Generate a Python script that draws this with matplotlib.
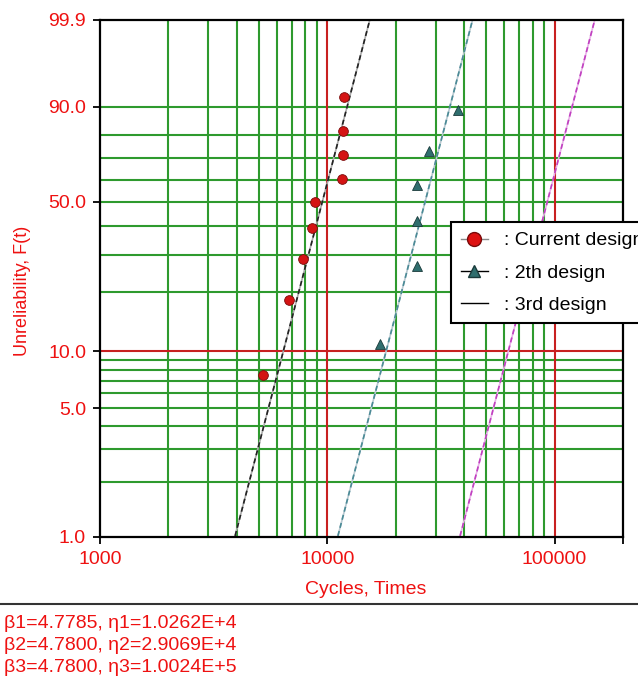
import numpy as np
import matplotlib
matplotlib.use('Agg')
import matplotlib.pyplot as plt
from matplotlib.lines import Line2D

plt.rcParams['font.family'] = ['Liberation Sans', 'DejaVu Sans']

# data
cur_t = [5206, 6773, 7803, 8551, 8812, 11580, 11698, 11698, 11815]
cur_f = [7.45, 18.1, 28.7, 39.4, 50.0, 60.6, 71.3, 81.9, 92.6]
sec_t = [17010, 24740, 24740, 24740, 27940, 37460]
sec_f = [10.9, 26.6, 42.2, 57.8, 73.4, 89.1]

betas = [4.7785, 4.7800, 4.7800]
etas = [1.0262e4, 2.9069e4, 1.0024e5]
fit_colors = [('#222222', '#aaaaaa'), ('#4a8a96', '#b8c8d0'), ('#c040c0', '#e8b0e8')]

ytick_vals = [1.0, 5.0, 10.0, 50.0, 90.0, 99.9]
ygrid_green = [2, 3, 4, 5, 6, 7, 8, 9, 20, 30, 40, 50, 60, 70, 80, 90]
xgrid_green = [2000, 3000, 4000, 5000, 6000, 7000, 8000, 9000,
               20000, 30000, 40000, 50000, 60000, 70000, 80000, 90000]

RED = '#ee1111'
GRID_G = '#2e9a2e'
GRID_R = '#c82020'
FS = 14


def fwd(f):
    f = np.clip(np.asarray(f, dtype=float), 1e-6, 99.99999)
    return np.log(-np.log(1 - f / 100.0))


def inv(y):
    return 100.0 * (1 - np.exp(-np.exp(np.asarray(y, dtype=float))))


fig = plt.figure(figsize=(6.38, 6.80), dpi=100)
ax = fig.add_axes([100 / 638, 1 - 537 / 680, 523 / 638, 517 / 680])
ax.set_xscale('log')
ax.set_yscale('function', functions=(fwd, inv))
ax.set_xlim(1000, 200000)
ax.set_ylim(1.0, 99.9)

for g in ygrid_green:
    ax.axhline(g, color=GRID_G, lw=1.5, zorder=1)
for g in xgrid_green:
    ax.axvline(g, color=GRID_G, lw=1.5, zorder=1)
ax.axhline(10, color=GRID_R, lw=1.5, zorder=1.5)
ax.axvline(10000, color=GRID_R, lw=1.5, zorder=1.5)
ax.axvline(100000, color=GRID_R, lw=1.5, zorder=1.5)

# fitted weibull lines
tt = np.logspace(3, np.log10(200000), 400)
for b, e, (c1, c2) in zip(betas, etas, fit_colors):
    ff = 100 * (1 - np.exp(-(tt / e) ** b))
    ax.plot(tt, ff, color=c2, lw=1.2, zorder=3)
    ax.plot(tt, ff, color=c1, lw=1.2, ls=(0, (3, 2)), zorder=3.1)

ax.plot(cur_t, cur_f, 'o', ms=7, mfc='#d41414', mec='#7a0a0a', mew=0.6, zorder=4)
ax.plot(sec_t, sec_f, '^', ms=7, mfc='#2f6e6e', mec='#1a3a3a', mew=0.6, zorder=4)

ax.set_yticks(ytick_vals)
ax.set_yticklabels(['%.1f' % v for v in ytick_vals])
ax.set_yticks([], minor=True)
ax.set_xticks([1000, 10000, 100000, 200000])
ax.set_xticklabels(['1000', '10000', '100000', ''])
ax.set_xticks([], minor=True)
ax.tick_params(axis='both', length=5, width=1.3, colors='black',
               labelcolor=RED, labelsize=FS, direction='out', pad=5)

for s in ax.spines.values():
    s.set_linewidth(1.6)
    s.set_color('black')
    s.set_zorder(5)

ax.set_xlabel('Cycles, Times', color=RED, fontsize=FS)
ax.xaxis.set_label_coords(266 / 523, -53 / 517)
ax.xaxis.label.set_va('center')
ax.set_ylabel('Unreliability, F(t)', color=RED, fontsize=13)
ax.yaxis.set_label_coords(-78 / 523, 246 / 517)
ax.yaxis.label.set_va('center')

handles = [
    Line2D([], [], color='#888888', lw=1, marker='o', ms=10, mfc='#dd1111', mec='#7a0a0a'),
    Line2D([], [], color='black', lw=1, marker='^', ms=8, mfc='#2f6e6e', mec='#1a3a3a'),
    Line2D([], [], color='black', lw=1),
]
leg = ax.legend(handles, [': Current design', ': 2th design', ': 3rd design'],
                loc='upper left', bbox_to_anchor=(351 / 523, 1 - 202 / 517),
                fontsize=FS, frameon=True, fancybox=False, framealpha=1,
                edgecolor='black', borderpad=0.5, labelspacing=0.75,
                handlelength=1.4, handletextpad=0.8, borderaxespad=0)
leg.get_frame().set_linewidth(1.5)
leg.set_zorder(6)

fig.add_artist(Line2D([0, 1], [1 - 604 / 680, 1 - 604 / 680], color='#333333', lw=1.5))
params = ['\u03b21=4.7785, \u03b71=1.0262E+4',
          '\u03b22=4.7800, \u03b72=2.9069E+4',
          '\u03b23=4.7800, \u03b73=1.0024E+5']
for i, p in enumerate(params):
    fig.text(4 / 638, 1 - (623 + 22 * i) / 680, p, color=RED, fontsize=FS,
             va='center', ha='left')

plt.savefig('out.png', dpi=100)
